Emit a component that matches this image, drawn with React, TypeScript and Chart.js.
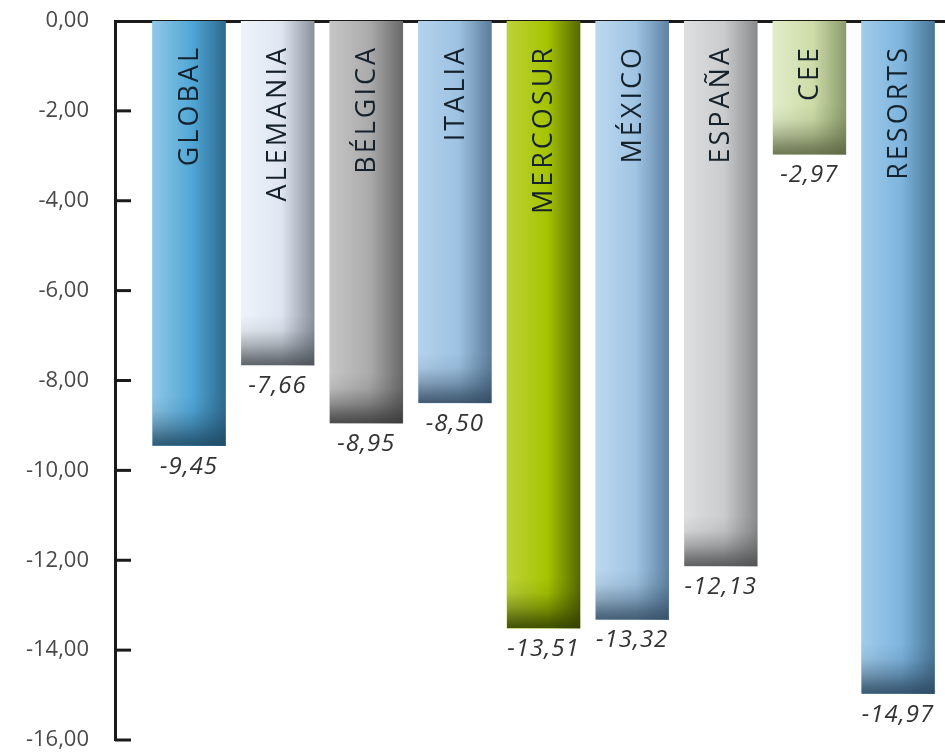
import React, { useEffect, useRef } from "react";
import { Chart, registerables } from "chart.js";

Chart.register(...registerables);

const categories = ["GLOBAL", "ALEMANIA", "BÉLGICA", "ITALIA", "MERCOSUR", "MÉXICO", "ESPAÑA", "CEE", "RESORTS"];
const values = [-9.45, -7.66, -8.95, -8.5, -13.51, -13.32, -12.13, -2.97, -14.97];
const valueLabels = ["-9,45", "-7,66", "-8,95", "-8,50", "-13,51", "-13,32", "-12,13", "-2,97", "-14,97"];
const yTicks = [0, -2, -4, -6, -8, -10, -12, -14, -16];
// left, middle, right, dark-bottom colours
const barColors = [
  ["#8fc6e6", "#4fa6d6", "#2e6a8e", "#1e4660"],
  ["#eef3fa", "#dfe6f1", "#8b939f", "#454a50"],
  ["#c6c6c6", "#aaaaaa", "#6a6a6a", "#353535"],
  ["#b4d2ec", "#9dc2e2", "#5c7e9b", "#2e465c"],
  ["#bcd23a", "#a6c400", "#566a00", "#2e3a00"],
  ["#bcd8ef", "#a0c4e3", "#5f84a3", "#324a60"],
  ["#dedfe1", "#cacbcd", "#8a8b8d", "#48494b"],
  ["#e2ecc8", "#cddca8", "#8c9c6c", "#586240"],
  ["#a2cbea", "#7db4de", "#4a7797", "#28445a"],
];

function fmt(v: number) {
  return v.toFixed(2).replace(".", ",");
}

const decorPlugin = {
  id: "decor",
  afterDatasetsDraw(chart: any) {
    const ctx = chart.ctx;
    const meta = chart.getDatasetMeta(0);
    const ys = chart.scales.y;
    const area = chart.chartArea;
    ctx.save();
    // bottom shading
    meta.data.forEach((el: any, i: number) => {
      const left = el.x - el.width / 2;
      const w = el.width;
      const h = Math.min(50, Math.abs(el.y - el.base));
      const bottom = Math.max(el.y, el.base);
      const c = barColors[i][3];
      const g = ctx.createLinearGradient(0, bottom - h, 0, bottom);
      g.addColorStop(0, c + "00");
      g.addColorStop(0.3, c + "18");
      g.addColorStop(0.6, c + "60");
      g.addColorStop(0.85, c + "b0");
      g.addColorStop(1, c + "d8");
      ctx.fillStyle = g;
      ctx.fillRect(left, bottom - h, w, h);
    });
    // category labels inside bars
    ctx.fillStyle = "#15222b";
    ctx.font = "27px 'Open Sans'";
    (ctx as any).letterSpacing = "3px";
    meta.data.forEach((el: any, i: number) => {
      ctx.save();
      ctx.translate(el.x + 1, area.top + 24);
      ctx.rotate(-Math.PI / 2);
      ctx.textAlign = "right";
      ctx.textBaseline = "middle";
      ctx.fillText(categories[i], 0, 0);
      ctx.restore();
    });
    (ctx as any).letterSpacing = "1px";
    // value labels
    ctx.fillStyle = "#333333";
    ctx.font = "italic 24px 'Open Sans'";
    ctx.textAlign = "center";
    ctx.textBaseline = "top";
    meta.data.forEach((el: any, i: number) => {
      ctx.fillText(valueLabels[i], el.x, Math.max(el.y, el.base) + 9);
    });
    (ctx as any).letterSpacing = "0px";
    // inner tick marks
    ctx.strokeStyle = "#1a1a1a";
    ctx.lineWidth = 3;
    yTicks.forEach((t) => {
      if (t === 0) return;
      const y = ys.getPixelForValue(t);
      ctx.beginPath();
      ctx.moveTo(area.left, y);
      ctx.lineTo(area.left + 16, y);
      ctx.stroke();
    });
    ctx.restore();
  },
};

export default function App() {
  const ref = useRef<HTMLCanvasElement>(null);
  useEffect(() => {
    document.body.style.margin = "0";
    const canvas = ref.current!;
    const chart = new Chart(canvas, {
      type: "bar",
      data: {
        datasets: [
          {
            data: values.map((v, i) => ({ x: i, y: v })),
            barThickness: 73,
            borderWidth: 0,
            backgroundColor: (c: any) => {
              const chart = c.chart;
              const i = c.dataIndex;
              if (!chart.chartArea || i === undefined) return barColors[i ?? 0][1];
              const cx = chart.scales.x.getPixelForValue(i);
              const g = chart.ctx.createLinearGradient(cx - 36, 0, cx + 36, 0);
              const col = barColors[i];
              g.addColorStop(0, col[0]);
              g.addColorStop(0.55, col[1]);
              g.addColorStop(1, col[2]);
              return g;
            },
          },
        ],
      },
      options: {
        animation: false,
        responsive: false,
        layout: { padding: { top: 21, bottom: 14, left: 0, right: 0 } },
        plugins: { legend: { display: false }, tooltip: { enabled: false } },
        scales: {
          x: {
            type: "linear",
            position: "top",
            offset: false,
            min: -0.835,
            max: 8.53,
            ticks: { display: false },
            grid: { display: false, drawTicks: false, offset: false },
            border: { display: true, color: "#1a1a1a", width: 3 },
            afterFit: (s: any) => {
              s.height = 0;
              s.paddingLeft = 0;
              s.paddingRight = 0;
            },
          },
          y: {
            min: -16,
            max: 0,
            afterBuildTicks: (s: any) => {
              s.ticks = yTicks.map((v) => ({ value: v }));
            },
            ticks: {
              callback: (v: any) => fmt(Number(v)),
              color: "#4a4a4a",
              font: { family: "'Open Sans'", size: 22 },
              padding: 26,
            },
            grid: { display: false, drawTicks: false },
            border: { display: true, color: "#1a1a1a", width: 3 },
            afterFit: (s: any) => {
              s.width = 115;
              s.paddingTop = 0;
              s.paddingBottom = 0;
            },
          },
        },
      },
      plugins: [decorPlugin],
    } as any);
    return () => chart.destroy();
  }, []);
  return <canvas ref={ref} width={945} height={754} style={{ display: "block" }} />;
}
